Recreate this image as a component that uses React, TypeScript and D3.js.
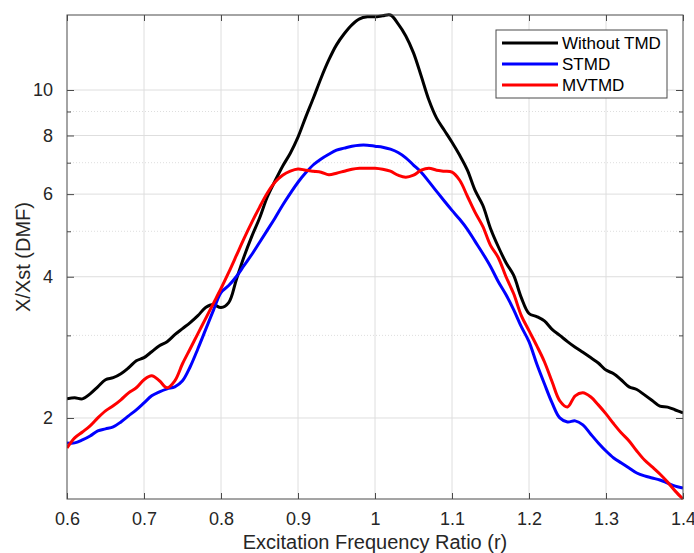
import React, { useEffect, useRef } from "react";
import * as d3 from "d3";

// excitation frequency ratio grid (r)
const ratio = [
  0.6, 0.61, 0.62, 0.63, 0.64, 0.65, 0.66, 0.67, 0.68, 0.69,
  0.7, 0.71, 0.72, 0.73, 0.74, 0.75, 0.76, 0.77, 0.78, 0.79,
  0.8, 0.81, 0.82, 0.83, 0.84, 0.85, 0.86, 0.87, 0.88, 0.89,
  0.9, 0.91, 0.92, 0.93, 0.94, 0.95, 0.96, 0.97, 0.98, 0.99,
  1.0, 1.01, 1.02, 1.03, 1.04, 1.05, 1.06, 1.07, 1.08, 1.09,
  1.1, 1.11, 1.12, 1.13, 1.14, 1.15, 1.16, 1.17, 1.18, 1.19,
  1.2, 1.21, 1.22, 1.23, 1.24, 1.25, 1.26, 1.27, 1.28, 1.29,
  1.3, 1.31, 1.32, 1.33, 1.34, 1.35, 1.36, 1.37, 1.38, 1.39,
  1.4,
];

const withoutTMD = [
  2.197, 2.208, 2.197, 2.252, 2.331, 2.413, 2.437, 2.485, 2.559, 2.649,
  2.689, 2.769, 2.852, 2.909, 3.01, 3.101, 3.194, 3.305, 3.438, 3.489,
  3.438, 3.524, 3.947, 4.418, 4.875, 5.328, 5.908, 6.391, 6.881, 7.335,
  7.937, 8.756, 9.614, 10.61, 11.59, 12.48, 13.18, 13.77, 14.18, 14.32,
  14.32, 14.39, 14.45, 13.84, 13.04, 12.0, 10.71, 9.52, 8.71, 8.21,
  7.74, 7.26, 6.75, 6.11, 5.68, 5.07, 4.64, 4.29, 4.03, 3.61,
  3.34, 3.29, 3.22, 3.09, 3.0, 2.91, 2.83, 2.76, 2.69, 2.62,
  2.53, 2.485, 2.41, 2.33, 2.3, 2.24, 2.18, 2.12, 2.11, 2.08,
  2.05,
];

const stmd = [
  1.77, 1.77, 1.796, 1.831, 1.877, 1.896, 1.915, 1.962, 2.021, 2.082,
  2.154, 2.23, 2.274, 2.308, 2.331, 2.401, 2.572, 2.81, 3.085, 3.388,
  3.702, 3.831, 4.005, 4.228, 4.462, 4.733, 5.022, 5.33, 5.68, 6.02,
  6.36, 6.66, 6.93, 7.13, 7.298, 7.444, 7.518, 7.591, 7.628, 7.628,
  7.591, 7.554, 7.48, 7.36, 7.17, 6.92, 6.68, 6.38, 6.08, 5.8,
  5.54, 5.302, 5.047, 4.757, 4.484, 4.207, 3.908, 3.666, 3.405, 3.131,
  2.909, 2.61, 2.366, 2.154, 2.001, 1.962, 1.972, 1.934, 1.849, 1.77,
  1.701, 1.644, 1.604, 1.565, 1.527, 1.505, 1.49, 1.475, 1.453, 1.432,
  1.418,
];

const mvtmd = [
  1.726, 1.814, 1.867, 1.924, 2.001, 2.071, 2.123, 2.186, 2.263, 2.32,
  2.413, 2.46, 2.401, 2.32, 2.4, 2.61, 2.81, 3.025, 3.257, 3.506,
  3.775, 4.085, 4.44, 4.83, 5.223, 5.623, 6.025, 6.359, 6.584, 6.72,
  6.79, 6.747, 6.714, 6.682, 6.6, 6.648, 6.714, 6.78, 6.813, 6.813,
  6.813, 6.78, 6.714, 6.584, 6.519, 6.584, 6.747, 6.813, 6.747, 6.714,
  6.682, 6.422, 5.937, 5.486, 5.122, 4.665, 4.397, 4.005, 3.683, 3.305,
  3.07, 2.852, 2.636, 2.389, 2.176, 2.112, 2.23, 2.263, 2.219, 2.133,
  2.041, 1.944, 1.858, 1.787, 1.701, 1.627, 1.573, 1.519, 1.46, 1.397,
  1.344,
];

const seriesNames = ["Without TMD", "STMD", "MVTMD"];
const seriesColors = ["#000000", "#0000ff", "#ff0000"];
const xTicks = [0.6, 0.7, 0.8, 0.9, 1, 1.1, 1.2, 1.3, 1.4];
const yTicks = [2, 4, 6, 8, 10];
const yMinorTicks = [3, 5, 7, 9];

const width = 694;
const height = 553;
const margin = { top: 15, right: 11, bottom: 54, left: 67 };
const font = "'Liberation Sans', Arial, Helvetica, sans-serif";

export default function App() {
  const ref = useRef<SVGSVGElement>(null);

  useEffect(() => {
    const svg = d3.select(ref.current);
    svg.selectAll("*").remove();

    const series = [withoutTMD, stmd, mvtmd];
    const all = series.flat();

    const x = d3
      .scaleLinear()
      .domain([0.6, 1.4])
      .range([margin.left, width - margin.right]);
    const y = d3
      .scaleLog()
      .domain(d3.extent(all) as [number, number])
      .range([height - margin.bottom, margin.top]);

    const x0 = margin.left;
    const x1 = width - margin.right;
    const y0 = height - margin.bottom;
    const y1 = margin.top;
    const gridColor = "#dedede";
    const axisColor = "#4a4a4a";

    svg.append("rect").attr("width", width).attr("height", height).attr("fill", "#fff");

    // grid
    const grid = svg.append("g");
    grid
      .selectAll(".xg")
      .data(xTicks.slice(1, -1))
      .enter()
      .append("line")
      .attr("x1", (d) => x(d))
      .attr("x2", (d) => x(d))
      .attr("y1", y0)
      .attr("y2", y1)
      .attr("stroke", gridColor)
      .attr("stroke-width", 1);
    grid
      .selectAll(".ymg")
      .data(yMinorTicks)
      .enter()
      .append("line")
      .attr("x1", x0)
      .attr("x2", x1)
      .attr("y1", (d) => y(d))
      .attr("y2", (d) => y(d))
      .attr("stroke", gridColor)
      .attr("stroke-width", 1)
      .attr("stroke-dasharray", "1,2");
    grid
      .selectAll(".yg")
      .data(yTicks)
      .enter()
      .append("line")
      .attr("x1", x0)
      .attr("x2", x1)
      .attr("y1", (d) => y(d))
      .attr("y2", (d) => y(d))
      .attr("stroke", gridColor)
      .attr("stroke-width", 1);

    // curves
    svg
      .append("clipPath")
      .attr("id", "plotclip")
      .append("rect")
      .attr("x", x0)
      .attr("y", y1 - 2)
      .attr("width", x1 - x0)
      .attr("height", y0 - y1 + 4);

    const line = d3
      .line<number>()
      .x((_, i) => x(ratio[i]))
      .y((d) => y(d))
      .curve(d3.curveCatmullRom.alpha(0.5));

    svg
      .append("g")
      .attr("clip-path", "url(#plotclip)")
      .selectAll("path")
      .data(series)
      .enter()
      .append("path")
      .attr("d", (d) => line(d))
      .attr("fill", "none")
      .attr("stroke", (_, i) => seriesColors[i])
      .attr("stroke-width", 3)
      .attr("stroke-linejoin", "round");

    // axes box
    svg
      .append("rect")
      .attr("x", x0)
      .attr("y", y1)
      .attr("width", x1 - x0)
      .attr("height", y0 - y1)
      .attr("fill", "none")
      .attr("stroke", axisColor)
      .attr("stroke-width", 1);

    const xAxis = d3.axisBottom(x).tickValues(xTicks).tickSize(-6).tickPadding(13).tickFormat((d) => String(d));
    svg
      .append("g")
      .attr("transform", `translate(0,${y0})`)
      .call(xAxis)
      .call((g) => g.select(".domain").remove())
      .call((g) => g.selectAll("line").attr("stroke", axisColor))
      .call((g) => g.selectAll("text").attr("fill", "#262626").attr("font-size", 18).attr("font-family", font));

    svg
      .append("g")
      .attr("transform", `translate(0,${y1})`)
      .call(d3.axisTop(x).tickValues(xTicks).tickSize(-6).tickFormat(() => ""))
      .call((g) => g.select(".domain").remove())
      .call((g) => g.selectAll("line").attr("stroke", axisColor));

    const yAxis = d3.axisLeft(y).tickValues(yTicks).tickSize(-7).tickPadding(14).tickFormat((d) => String(d));
    svg
      .append("g")
      .attr("transform", `translate(${x0},0)`)
      .call(yAxis)
      .call((g) => g.select(".domain").remove())
      .call((g) => g.selectAll("line").attr("stroke", axisColor))
      .call((g) => g.selectAll("text").attr("fill", "#262626").attr("font-size", 18).attr("font-family", font));

    svg
      .append("g")
      .attr("transform", `translate(${x0},0)`)
      .call(d3.axisLeft(y).tickValues(yMinorTicks).tickSize(-4).tickFormat(() => ""))
      .call((g) => g.select(".domain").remove())
      .call((g) => g.selectAll("line").attr("stroke", axisColor));

    svg
      .append("g")
      .attr("transform", `translate(${x1},0)`)
      .call(d3.axisRight(y).tickValues(yTicks).tickSize(-7).tickFormat(() => ""))
      .call((g) => g.select(".domain").remove())
      .call((g) => g.selectAll("line").attr("stroke", axisColor));

    svg
      .append("g")
      .attr("transform", `translate(${x1},0)`)
      .call(d3.axisRight(y).tickValues(yMinorTicks).tickSize(-4).tickFormat(() => ""))
      .call((g) => g.select(".domain").remove())
      .call((g) => g.selectAll("line").attr("stroke", axisColor));

    // axis labels
    svg
      .append("text")
      .attr("x", (x0 + x1) / 2)
      .attr("y", 549)
      .attr("text-anchor", "middle")
      .attr("font-family", font)
      .attr("font-size", 20)
      .attr("fill", "#262626")
      .text("Excitation Frequency Ratio (r)");

    svg
      .append("text")
      .attr("transform", `translate(30,${(y0 + y1) / 2}) rotate(-90)`)
      .attr("text-anchor", "middle")
      .attr("font-family", font)
      .attr("font-size", 20)
      .attr("fill", "#262626")
      .text("X/Xst (DMF)");

    // legend
    const lg = svg.append("g").attr("transform", "translate(496,30)");
    lg.append("rect")
      .attr("width", 171)
      .attr("height", 68)
      .attr("fill", "#fff")
      .attr("stroke", axisColor)
      .attr("stroke-width", 1);
    const item = lg
      .selectAll(".item")
      .data(seriesNames)
      .enter()
      .append("g")
      .attr("transform", (_, i) => `translate(0,${13 + i * 21})`);
    item
      .append("line")
      .attr("x1", 6)
      .attr("x2", 62)
      .attr("stroke", (_, i) => seriesColors[i])
      .attr("stroke-width", 3);
    item
      .append("text")
      .attr("x", 66)
      .attr("dy", "0.35em")
      .attr("font-family", font)
      .attr("font-size", 17)
      .attr("fill", "#000")
      .text((d) => d);
  }, []);

  return (
    <svg
      ref={ref}
      width={width}
      height={height}
      style={{ position: "absolute", left: 0, top: 0 }}
    />
  );
}
